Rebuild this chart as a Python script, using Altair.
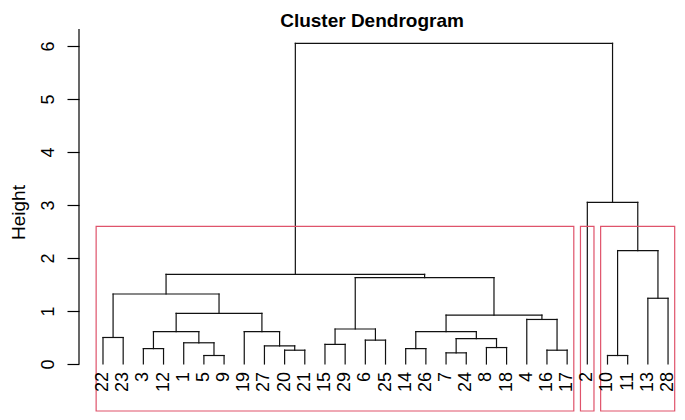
import altair as alt
import pandas as pd

# ---- data ----
leaf_labels = [22, 23, 3, 12, 1, 5, 9, 19, 27, 20, 21, 15, 29, 6, 25, 14,
               26, 7, 24, 8, 18, 4, 16, 17, 2, 10, 11, 13, 28]

# hclust-style merge table: negative = leaf label, positive = earlier merge step
merge_a = [-5, -10, -7, -20, -16, -3, -14, -8, -27, -15, -1, -6, 3, -22,
           6, -19, 7, 10, -4, 17, 15, 18, 14, -13, 23, 2, -2, 25]
merge_b = [-9, -11, -24, -21, -17, -12, -26, -18, 4, -29, 1, -25, 8, -23,
           11, 9, 13, 12, 5, 19, 16, 20, 21, -28, 22, 24, 26, 27]
merge_height = [0.16, 0.16, 0.21, 0.26, 0.26, 0.29, 0.29, 0.31, 0.34, 0.37,
                0.40, 0.45, 0.48, 0.50, 0.61, 0.61, 0.61, 0.66, 0.84, 0.92,
                0.955, 1.63, 1.32, 1.24, 1.69, 2.14, 3.05, 6.05]

# k = 3 clusters (rect.hclust)
cluster_first = [0, 24, 25]
cluster_last = [23, 24, 28]
cut_heights = [3.05, 2.14]

y_ticks = [0, 1, 2, 3, 4, 5, 6]
title_text = "Cluster Dendrogram"
y_title = "Height"

# ---- build tree segments ----
pos = {lab: i for i, lab in enumerate(leaf_labels)}
node_x, node_h = {}, {}


def child(c):
    if c < 0:
        return float(pos[-c]), 0.0
    return node_x[c], node_h[c]


segs = []
for k, (a, b, h) in enumerate(zip(merge_a, merge_b, merge_height), start=1):
    xa, ha = child(a)
    xb, hb = child(b)
    segs.append(dict(x=xa, x2=xa, y=ha, y2=h))
    segs.append(dict(x=xb, x2=xb, y=hb, y2=h))
    segs.append(dict(x=min(xa, xb), x2=max(xa, xb), y=h, y2=h))
    node_x[k] = (xa + xb) / 2
    node_h[k] = h
seg_df = pd.DataFrame(segs)

leaf_df = pd.DataFrame({"x": list(range(len(leaf_labels))),
                        "y": [0.0] * len(leaf_labels),
                        "label": [str(v) for v in leaf_labels]})

x_min, x_max = -1.189, 28.444
y_min, y_max = -0.887, 6.32
rect_top = sum(cut_heights) / 2
box_df = pd.DataFrame({"x": [f - 0.34 for f in cluster_first],
                       "x2": [l + 0.33 for l in cluster_last],
                       "y": [y_min] * 3,
                       "y2": [rect_top] * 3})

FONT = "Liberation Sans"
xs = alt.Scale(domain=[x_min, x_max], nice=False, zero=False)
ys = alt.Scale(domain=[y_min, y_max], nice=False, zero=False)

tree = alt.Chart(seg_df).mark_rule(color="#111111", strokeWidth=1.2, strokeCap="square").encode(
    x=alt.X("x:Q", scale=xs, axis=None),
    x2="x2:Q",
    y=alt.Y("y:Q", scale=ys, axis=alt.Axis(
        values=y_ticks, tickSize=12, tickColor="black", tickWidth=1.2,
        domain=False, grid=False,
        labelAngle=270, labelAlign="center", labelBaseline="alphabetic",
        labelPadding=14, labelFontSize=18, labelFont=FONT, labelColor="black",
        title=y_title, titleAngle=270, titleFont=FONT, titleFontSize=19,
        titleFontWeight="normal", titleColor="black", titleAlign="center",
        titleBaseline="alphabetic", titleX=-55, titleY=183)),
    y2="y2:Q",
)

axis_line = alt.Chart(pd.DataFrame({"a": [0]})).mark_rule(color="black", strokeWidth=1.2).encode(
    x=alt.value(0),
    y=alt.Y(datum=0, scale=ys),
    y2=alt.Y2(datum=y_max),
)

boxes = alt.Chart(box_df).mark_rect(filled=False, stroke="#DF536B", strokeWidth=1.2).encode(
    x=alt.X("x:Q", scale=xs), x2="x2:Q",
    y=alt.Y("y:Q", scale=ys), y2="y2:Q",
)

labels = alt.Chart(leaf_df).mark_text(
    angle=270, align="right", baseline="middle", yOffset=8,
    fontSize=18, font=FONT, color="black").encode(
    x=alt.X("x:Q", scale=xs),
    y=alt.Y("y:Q", scale=ys),
    text="label:N",
)

title = alt.Chart(pd.DataFrame({"t": [title_text]})).mark_text(
    font=FONT, fontSize=19, fontWeight="bold", color="black",
    align="center", baseline="alphabetic").encode(
    x=alt.value(293), y=alt.value(-2), text="t:N")

chart = alt.layer(tree, axis_line, boxes, labels, title).properties(
    width=598, height=382,
    autosize="none",
    background="white",
    padding={"left": 71, "top": 21, "right": 0, "bottom": 1},
).configure_view(stroke=None)

chart.save("out.html", embed_options={"renderer": "svg", "actions": False})
